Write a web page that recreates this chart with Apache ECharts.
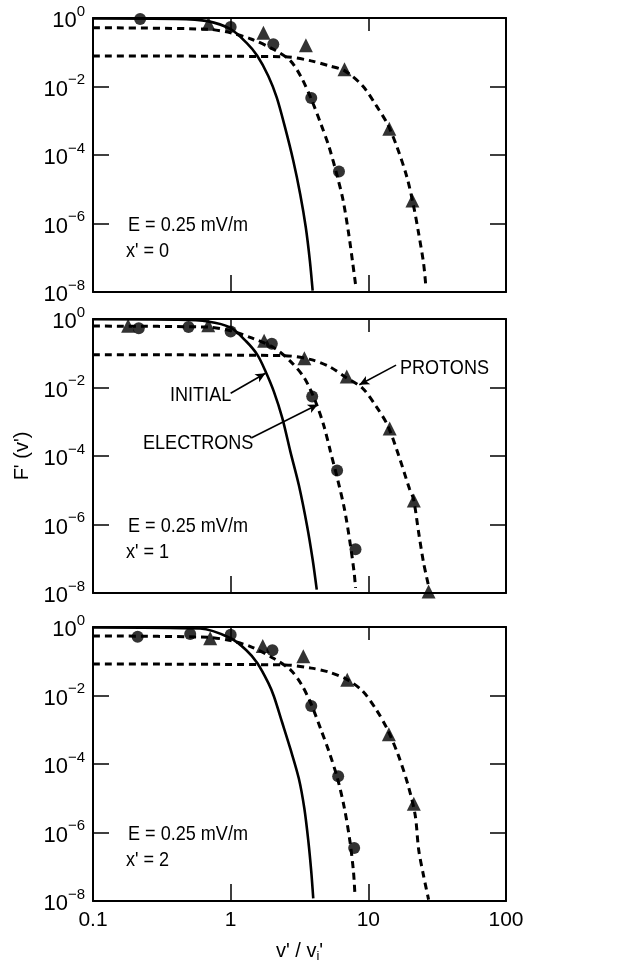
<!DOCTYPE html>
<html>
<head>
<meta charset="utf-8">
<script src="https://cdn.jsdelivr.net/npm/echarts@6/dist/echarts.min.js"></script>
<style>
  html, body { margin: 0; padding: 0; background: #fff; }
  #chart { width: 634px; height: 971px; }
</style>
</head>
<body>
<div id="chart"></div>
<script>
// values: [v'/vi', F'(v')]
const panelNames = ["x' = 0", "x' = 1", "x' = 2"]
const fieldLabel = 'E = 0.25 mV/m'
const yExpTicks = [-8, -6, -4, -2, 0] // F' ticks are 10^e
const xTicks = [0.1, 1, 10, 100]

// x' = 0
const initial0 = [[0.1, 0.97], [0.4, 0.94], [0.68, 0.81], [1.0, 0.47], [1.3, 0.19], [1.56, 0.079], [1.88, 0.020], [2.16, 0.0048], [2.48, 6.5e-4], [2.85, 6.8e-5], [3.2, 7.2e-6], [3.51, 7.9e-7], [3.76, 8.3e-8], [3.94, 1.1e-8]]
const elecFit0 = [[0.1, 0.52], [0.68, 0.47], [1.0, 0.37], [1.42, 0.24], [2.06, 0.12], [2.72, 0.056], [3.27, 0.018], [3.85, 0.0043], [4.53, 7.9e-4], [5.2, 1.66e-4], [5.98, 2.2e-5], [6.56, 4.7e-6], [7.2, 5.0e-7], [7.71, 6.8e-8], [8.07, 1.7e-8]]
const protFit0 = [[0.1, 0.078], [2.48, 0.074], [3.85, 0.056], [5.2, 0.040], [6.71, 0.029], [9.08, 0.0105], [11.4, 0.0028], [13.8, 7.9e-4], [16.2, 1.66e-4], [19.1, 2.2e-5], [21.4, 3.0e-6], [23.2, 5.1e-7], [25.2, 6.8e-8], [26.2, 1.4e-8]]
const elecPts0 = [[0.22, 0.93], [1.0, 0.55], [2.04, 0.17], [3.85, 0.0046], [6.12, 3.3e-5]]
const protPts0 = [[0.69, 0.68], [1.73, 0.37], [3.52, 0.16], [6.71, 0.032], [14.2, 5.8e-4], [20.9, 4.7e-6]]

// x' = 1
const initial1 = [[0.1, 0.98], [0.4, 0.95], [0.68, 0.85], [1.0, 0.56], [1.3, 0.22], [1.56, 0.091], [1.79, 0.030], [2.06, 0.0076], [2.37, 0.0013], [2.72, 1.3e-4], [3.13, 1.4e-5], [3.59, 9.1e-7], [3.94, 9.5e-8], [4.22, 1.26e-8]]
const elecFit1 = [[0.1, 0.62], [0.68, 0.58], [1.0, 0.45], [1.42, 0.28], [2.06, 0.145], [2.72, 0.058], [3.43, 0.019], [4.13, 0.0039], [4.74, 7.9e-4], [5.32, 1.3e-4], [5.98, 2.1e-5], [6.71, 2.8e-6], [7.36, 3.0e-7], [7.89, 3.9e-8], [8.07, 1.4e-8]]
const protFit1 = [[0.1, 0.091], [2.48, 0.085], [3.85, 0.065], [5.2, 0.041], [6.71, 0.021], [9.08, 0.0095], [11.4, 0.0028], [13.8, 7.9e-4], [16.6, 1.05e-4], [19.9, 1.1e-5], [21.3, 5.5e-6], [23.2, 5.8e-7], [25.2, 7.6e-8], [27.4, 1.6e-8]]
const elecPts1 = [[0.215, 0.54], [0.494, 0.58], [1.0, 0.43], [1.99, 0.19], [3.91, 0.0055], [5.93, 3.8e-5], [8.07, 1.9e-7]]
const protPts1 = [[0.18, 0.63], [0.687, 0.66], [1.75, 0.23], [3.43, 0.072], [6.97, 0.021], [14.3, 6.3e-4], [21.4, 5.0e-6], [27.4, 1.1e-8]]

// x' = 2
const initial2 = [[0.1, 0.97], [0.6, 0.9], [1.0, 0.47], [1.3, 0.21], [1.56, 0.089], [1.88, 0.023], [2.06, 0.0095], [2.37, 0.0016], [2.72, 2.7e-4], [3.13, 3.7e-5], [3.43, 5.0e-6], [3.67, 5.4e-7], [3.85, 7.2e-8], [3.98, 1.2e-8]]
const elecFit2 = [[0.1, 0.55], [0.68, 0.50], [1.0, 0.40], [1.42, 0.26], [2.06, 0.12], [2.72, 0.056], [3.27, 0.021], [3.85, 0.0055], [4.53, 0.001], [5.2, 2.2e-4], [5.98, 3.7e-5], [6.71, 5.0e-6], [7.36, 5.4e-7], [7.8, 7.2e-8], [7.98, 1.7e-8]]
const protFit2 = [[0.1, 0.083], [2.48, 0.078], [3.85, 0.063], [5.2, 0.048], [7.03, 0.029], [9.08, 0.0135], [11.4, 0.0039], [13.8, 0.001], [16.6, 1.7e-4], [19.5, 2.3e-5], [21.9, 3.2e-6], [23.2, 3.2e-7], [25.2, 5.4e-8], [27.4, 1.1e-8]]
const elecPts2 = [[0.211, 0.52], [0.508, 0.62], [1.0, 0.59], [2.01, 0.21], [3.85, 0.0049], [6.04, 4.4e-5], [7.89, 3.5e-7]]
const protPts2 = [[0.71, 0.47], [1.71, 0.28], [3.37, 0.14], [7.03, 0.029], [14.1, 7.4e-4], [21.4, 6.9e-6]]

// arrows of the middle panel: [from, to]
const arrows1 = [
  [[1.0, 0.0068], [1.79, 0.026]],
  [[1.42, 3.4e-4], [4.3, 0.0032]],
  [[15.9, 0.045], [8.6, 0.012]]
]

const panels = [
  { initial: initial0, elecFit: elecFit0, protFit: protFit0, elecPts: elecPts0, protPts: protPts0 },
  { initial: initial1, elecFit: elecFit1, protFit: protFit1, elecPts: elecPts1, protPts: protPts1 },
  { initial: initial2, elecFit: elecFit2, protFit: protFit2, elecPts: elecPts2, protPts: protPts2 }
]

const FONT = '"Liberation Sans", Arial, sans-serif'
const gridTops = [18, 319, 627]
const gridH = 274
const yMin = Math.pow(10, yExpTicks[0])
const yMax = Math.pow(10, yExpTicks[yExpTicks.length - 1])

const chart = echarts.init(document.getElementById('chart'))

const grid = []
const xAxis = []
const yAxis = []
const series = []

function expLabel(e) {
  return '{b|10}{s|' + (e < 0 ? '\u2212' + (-e) : e) + '}'
}

const line = { show: true, onZero: false, lineStyle: { color: '#000', width: 2 } }
const tick = { show: true, inside: true, length: 16, lineStyle: { color: '#000', width: 1.5 } }

panels.forEach((p, i) => {
  grid.push({ left: 93, right: 128, top: gridTops[i], height: gridH })
  xAxis.push({
    type: 'log', logBase: 10, min: xTicks[0], max: xTicks[xTicks.length - 1], gridIndex: i, position: 'bottom',
    axisLine: line, axisTick: Object.assign({}, tick, { length: 17 }), splitLine: { show: false }, minorTick: { show: false },
    axisLabel: {
      show: i === 2, color: '#000', fontFamily: FONT, fontSize: 21, margin: 9,
      formatter: v => String(v)
    },
    name: i === 2 ? "v' / v{sub|i}'" : '',
    nameLocation: 'middle', nameGap: 39,
    nameTextStyle: {
      color: '#000', fontFamily: FONT, fontSize: 20,
      rich: { sub: { fontFamily: FONT, fontSize: 13, verticalAlign: 'bottom', padding: [10, 0, 0, 0] } }
    }
  })
  xAxis.push({
    type: 'log', logBase: 10, min: xTicks[0], max: xTicks[xTicks.length - 1], gridIndex: i, position: 'top',
    axisLine: line, axisTick: Object.assign({}, tick, { length: 13 }), axisLabel: { show: false },
    splitLine: { show: false }, minorTick: { show: false }
  })
  // log axis that places the data (frame and ticks drawn by the exponent axes below)
  yAxis.push({
    type: 'log', logBase: 10, min: yMin, max: yMax, gridIndex: i, show: false,
    splitLine: { show: false }
  })
  // decade ticks every 2 exponents, labelled 10^e
  yAxis.push({
    type: 'value', min: yExpTicks[0], max: yExpTicks[yExpTicks.length - 1], interval: 2, gridIndex: i, position: 'left',
    axisLine: line, axisTick: tick, splitLine: { show: false },
    axisLabel: {
      color: '#000', margin: 8, formatter: expLabel,
      rich: {
        b: { fontFamily: FONT, fontSize: 22, color: '#000', lineHeight: 28, verticalAlign: 'bottom' },
        s: { fontFamily: FONT, fontSize: 15, color: '#000', verticalAlign: 'top' }
      }
    },
    name: i === 1 ? "F' (v')" : '',
    nameLocation: 'middle', nameGap: 47, nameRotate: 90,
    nameTextStyle: { color: '#000', fontFamily: FONT, fontSize: 20 }
  })
  yAxis.push({
    type: 'value', min: yExpTicks[0], max: yExpTicks[yExpTicks.length - 1], interval: 2, gridIndex: i, position: 'right',
    axisLine: line, axisTick: tick, axisLabel: { show: false }, splitLine: { show: false }
  })
  const xi = i * 2
  const yi = i * 3
  const initialSeries = {
    type: 'line', xAxisIndex: xi, yAxisIndex: yi, data: p.initial, smooth: 0.3,
    showSymbol: false, lineStyle: { color: '#000', width: 2.6 }, z: 3
  }
  if (i === 1) {
    initialSeries.markLine = {
      silent: true, symbol: ['none', 'arrow'], symbolSize: [7, 10],
      lineStyle: { color: '#000', width: 1.6, type: 'solid' },
      label: { show: false },
      data: arrows1.map(a => [{ coord: a[0] }, { coord: a[1] }])
    }
  }
  series.push(initialSeries)
  series.push({
    type: 'line', xAxisIndex: xi, yAxisIndex: yi, data: p.elecFit, smooth: 0.3,
    showSymbol: false, lineStyle: { color: '#000', width: 3, type: [7, 5] }, z: 3
  })
  series.push({
    type: 'line', xAxisIndex: xi, yAxisIndex: yi, data: p.protFit, smooth: 0.3,
    showSymbol: false, lineStyle: { color: '#000', width: 3, type: [7, 5] }, z: 3
  })
  series.push({
    type: 'scatter', xAxisIndex: xi, yAxisIndex: yi, data: p.elecPts,
    symbol: 'circle', symbolSize: 12, itemStyle: { color: '#000' }, z: 4
  })
  series.push({
    type: 'scatter', xAxisIndex: xi, yAxisIndex: yi, data: p.protPts,
    symbol: 'triangle', symbolSize: 14, itemStyle: { color: '#000' }, z: 4
  })
})

// condensed look of the original lettering
function txt(text, x, y) {
  return {
    type: 'text', x: x, y: y, z: 10, scaleX: 0.86,
    style: { text: text, fill: '#000', font: '21px ' + FONT, align: 'left', verticalAlign: 'middle' }
  }
}

const graphic = []
gridTops.forEach((t, i) => {
  graphic.push(txt(fieldLabel, 128, t + 207))
  graphic.push(txt(panelNames[i], 126, t + 233))
})
graphic.push(txt('INITIAL', 170, 395))
graphic.push(txt('ELECTRONS', 143, 443))
graphic.push(txt('PROTONS', 400, 368))

chart.setOption({
  animation: false,
  backgroundColor: '#fff',
  grid: grid,
  xAxis: xAxis,
  yAxis: yAxis,
  series: series,
  graphic: graphic
})
</script>
</body>
</html>
